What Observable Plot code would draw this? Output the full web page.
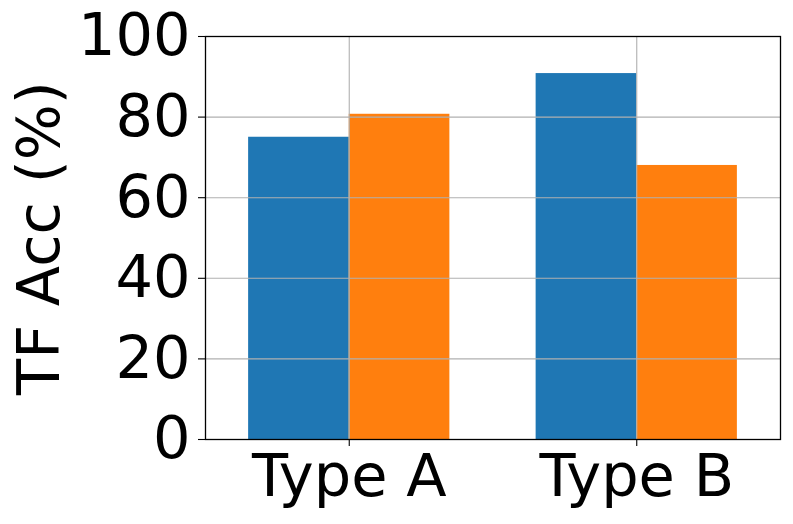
<!DOCTYPE html>
<html><head><meta charset="utf-8">
<script src="https://cdn.jsdelivr.net/npm/d3@7"></script>
<script src="https://cdn.jsdelivr.net/npm/@observablehq/plot@0.6"></script>
<style>body{margin:0;background:#fff}</style>
</head><body><div id="chart"></div>
<script>
const categories = ["Type A", "Type B"];
const seriesBlue = [75.0, 90.8];
const seriesOrange = [80.7, 68.0];
const yTicks = [0, 20, 40, 60, 80, 100];
const yLabel = "TF Acc (%)";
const barWidth = 0.35;

const rows = categories.flatMap((c, i) => [
  {cat: c, series: "Series 1", value: seriesBlue[i], x1: i - barWidth, x2: i},
  {cat: c, series: "Series 2", value: seriesOrange[i], x1: i, x2: i + barWidth}
]);
const catIdx = categories.map((c, i) => i);

const chart = Plot.plot({
  width: 793, height: 524,
  marginLeft: 205, marginRight: 13, marginTop: 36, marginBottom: 85,
  style: {fontFamily: "DejaVu Sans", fontSize: "59px", background: "white", color: "black"},
  x: {domain: [-0.5, 1.5]},
  y: {domain: [0, 100]},
  color: {type: "ordinal", domain: ["Series 1", "Series 2"], range: ["#1f77b4", "#ff7f0e"]},
  marks: [
    Plot.rect(rows, {x1: "x1", x2: "x2", y1: 0, y2: "value", fill: "series"}),
    Plot.gridX(catIdx, {stroke: "#b0b0b0", strokeOpacity: 1, strokeWidth: 1.1}),
    Plot.gridY(yTicks, {stroke: "#b0b0b0", strokeOpacity: 1, strokeWidth: 1.1}),
    Plot.axisY(yTicks, {tickSize: 7, tickPadding: 8, fontSize: 59, strokeWidth: 1.1,
      label: yLabel, labelAnchor: "center", labelOffset: 188, labelArrow: "none"}),
    Plot.axisX(catIdx, {tickSize: 7, tickPadding: 8, fontSize: 59, strokeWidth: 1.1,
      tickFormat: i => categories[i], label: null}),
    Plot.frame({stroke: "black", strokeWidth: 1.3})
  ]
});
document.getElementById("chart").appendChild(chart);
</script></body></html>
